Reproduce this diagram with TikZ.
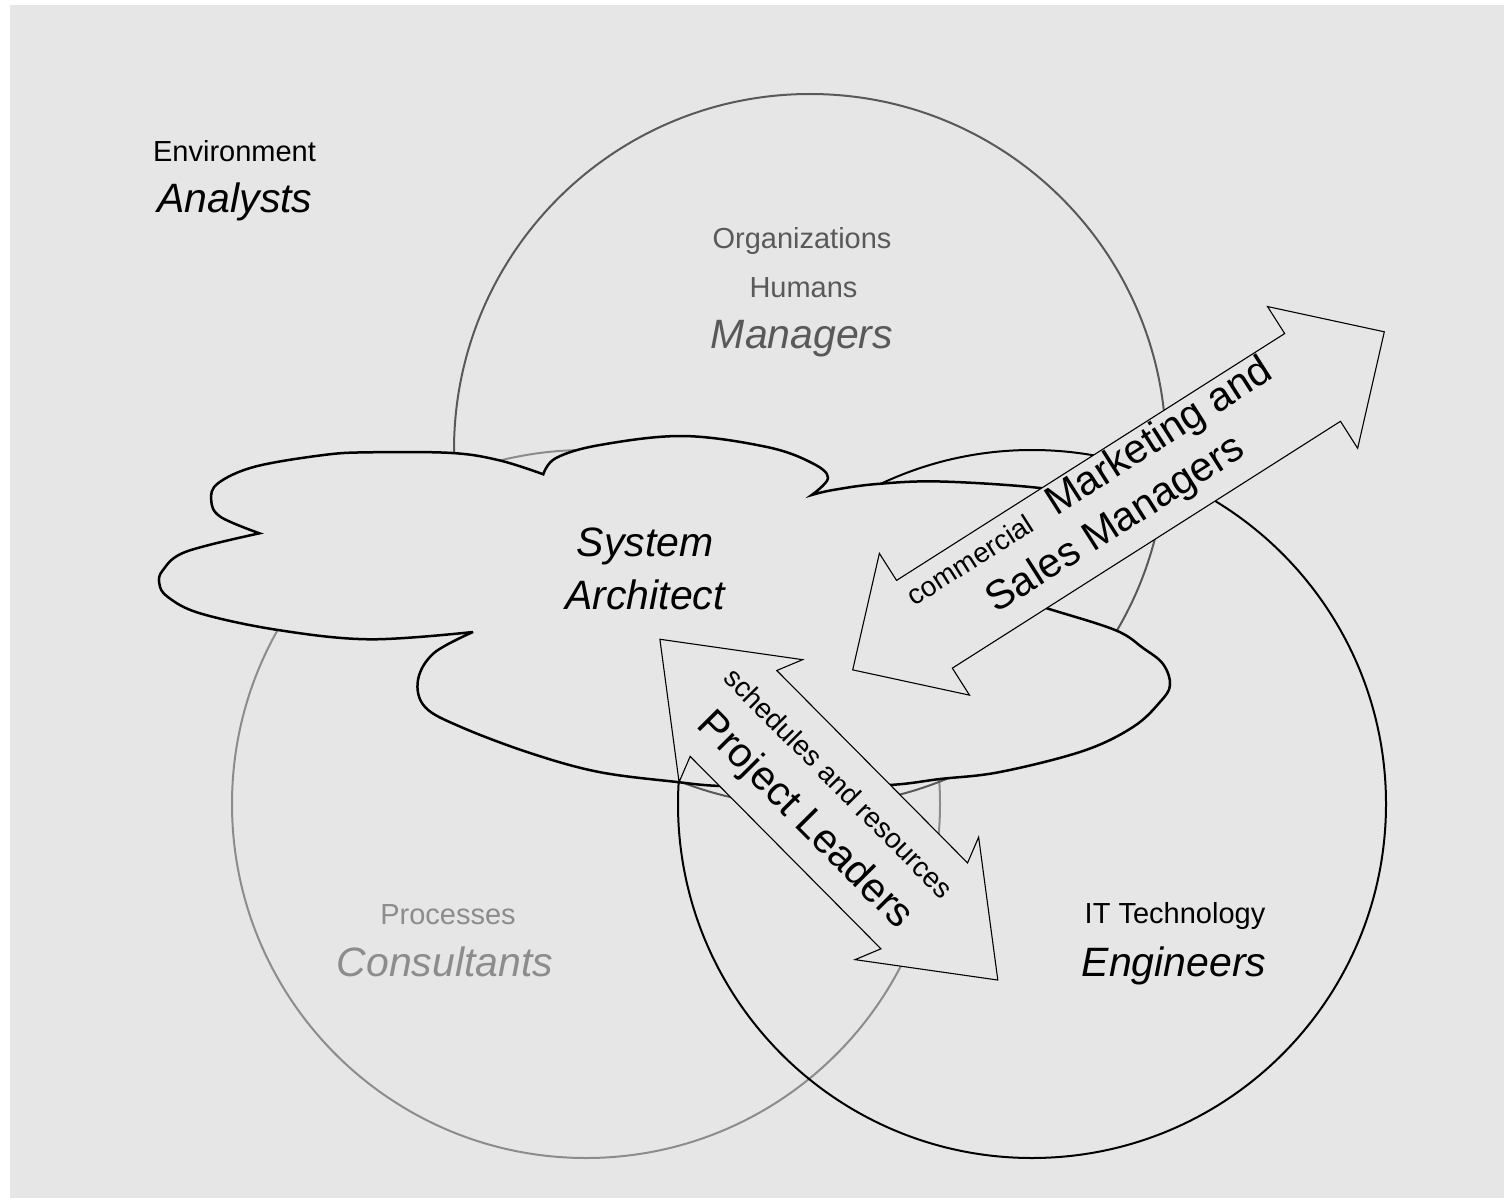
\documentclass[tikz,border=0pt]{standalone}
\usepackage{fontspec}
\setmainfont{Liberation Sans}
\definecolor{bg}{HTML}{E6E6E6}
\definecolor{mgr}{HTML}{595959}
\definecolor{cons}{HTML}{8C8C8C}
\tikzset{
  lbl/.style={anchor=base, inner sep=0pt, font=\fontsize{29}{34}\selectfont},
  role/.style={anchor=base, inner sep=0pt, font=\fontsize{41}{48}\selectfont\itshape},
  big/.style={anchor=base, inner sep=0pt, font=\fontsize{41}{48}\selectfont},
  bigarrow/.style={draw=black, fill=bg, line width=1.1pt, line join=miter},
  venn/.style={line width=2pt},
  cloudline/.style={draw=black, fill=bg, line width=2.5pt, line join=miter, miter limit=6},
  lobe/.style={smooth, tension=0.6}
}
\begin{document}
\begin{tikzpicture}[x=1pt,y=-1pt]
\useasboundingbox (0,0) rectangle (1504,1198);
\fill[white] (0,0) rectangle (1504,1198);
\fill[bg] (10,5) rectangle (1504,1198);

% Venn circles
\draw[venn, cons] (586,804) circle[radius=354];
\draw[venn, mgr] (810,450) circle[radius=356];
\draw[venn, black] (1032,804) circle[radius=354];

% cloud
\filldraw[cloudline] (259.4,533.3)
  -- plot[lobe] coordinates {(259.4,533.3) (220.3,516.7) (211.2,500) (218,483.3) (254.8,466.7) (323.7,455) (369.6,452.3) (452,453) (500,460.5) (543.3,474.3)}
  -- plot[lobe] coordinates {(543.3,474.3) (556,458) (600,445) (683,436) (767,447) (812,463) (828,478) (811.7,495)}
  -- plot[lobe] coordinates {(811.7,495) (833,490) (877,484) (940,481.5) (1040,488) (1105,500) (1130,522) (1105,552) (1055,576) (1000,593)}
  -- plot[lobe] coordinates {(1000,593) (1046,608) (1115,630) (1143,648) (1163,664) (1170,685) (1160,702) (1133,727) (1083,751) (1000,772) (940,779) (890,785) (800,788) (720,786) (677,782) (599,772) (530,753) (461,727) (425,707) (418,680) (434,653) (473,632)}
  -- plot[lobe] coordinates {(473,632) (370,639.3) (278,630) (200,613.3) (167.5,596.7) (159.3,583.3) (163,570) (186,551.7) (259.4,533.3)}
  -- cycle;

% marketing double arrow
\filldraw[bigarrow] (1384.3,331.8) -- (1267.5,306.55) -- (1284.67,333.55) -- (896.53,580.39) -- (879.36,553.39) -- (852.7,669.88) -- (969.5,695.15) -- (952.33,668.15) -- (1340.47,421.31) -- (1357.64,448.31) -- cycle;

% project leaders double arrow
\filldraw[bigarrow] (997.81,980.05) -- (978.62,837.15) -- (967.55,862.92) -- (776.77,670.5) -- (802.62,659.65) -- (659.89,639.25) -- (679.08,782.15) -- (690.15,756.38) -- (880.93,948.8) -- (855.08,959.65) -- cycle;

% labels
\node[lbl] (env) at (234.5,162) {Environment};
\node[role] (analysts) at (235,213) {Analysts};

\node[lbl, text=mgr] (org) at (802,248.3) {Organizations};
\node[lbl, text=mgr] (hum) at (803.5,297.3) {Humans};
\node[role, text=mgr] (managers) at (802,348.3) {Managers};

\node[role] (system) at (645,556.7) {System};
\node[role] (architect) at (645,609) {Architect};

\node[lbl, text=cons] (proc) at (448,924) {Processes};
\node[role, text=cons] (consultants) at (445,976) {Consultants};

\node[lbl] (it) at (1175,923.7) {IT Technology};
\node[role] (engineers) at (1174,976) {Engineers};

\node[big, rotate=32.45] (mkt1) at (1095.1,492.0) {{\fontsize{28}{34}\selectfont commercial}\hspace{24pt}Marketing and};
\node[big, rotate=32.45] (mkt2) at (1121.9,534.2) {Sales Managers};

\node[lbl, font=\fontsize{28}{34}\selectfont, rotate=-45.2] (sched) at (831.8,789.9) {schedules and resources};
\node[big, rotate=-45.2] (pl) at (797,828.6) {Project Leaders};
\end{tikzpicture}
\end{document}
